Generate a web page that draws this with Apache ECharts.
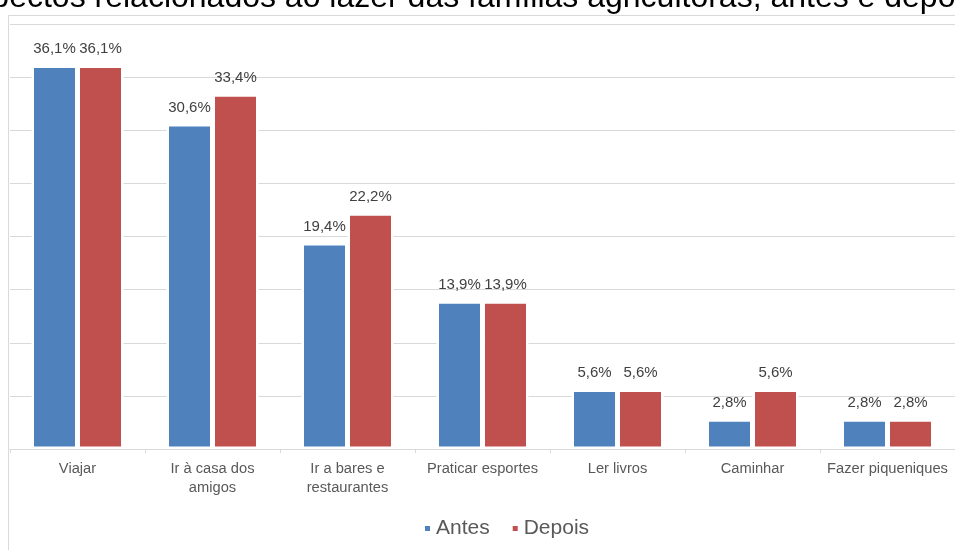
<!DOCTYPE html>
<html>
<head>
<meta charset="utf-8">
<script src="https://cdn.jsdelivr.net/npm/echarts@6/dist/echarts.min.js"></script>
<style>html,body{margin:0;padding:0;background:#fff}#c{width:955px;height:550px}</style>
</head>
<body>
<div id="c"></div>
<script>
var categories = ['Viajar', 'Ir à casa dos\namigos', 'Ir a bares e\nrestaurantes', 'Praticar esportes', 'Ler livros', 'Caminhar', 'Fazer piqueniques'];
var antes = [36.1, 30.6, 19.4, 13.9, 5.6, 2.8, 2.8];
var depois = [36.1, 33.4, 22.2, 13.9, 5.6, 5.6, 2.8];
var titleText = 'Aspectos relacionados ao lazer das famílias agricultoras, antes e depois';

var FONT = 'Liberation Sans, Arial, sans-serif';
var chart = echarts.init(document.getElementById('c'));
var fmt = function (p) { return p.value.toFixed(1).replace('.', ',') + '%'; };
var lbl = { show: true, position: 'top', distance: 9, formatter: fmt, color: '#404040', fontSize: 15, fontFamily: FONT };
chart.setOption({
  animation: false,
  textStyle: { fontFamily: FONT },
  graphic: [
    { type: 'rect', shape: { x: 8.5, y: 15.5, width: 1000, height: 600 }, style: { fill: 'none', stroke: '#D9D9D9', lineWidth: 1 }, z: -1 },
    { type: 'text', left: -46, top: -18, style: { text: titleText, fontSize: 32, fill: '#000', fontFamily: FONT } }
  ],
  legend: {
    data: ['Antes', 'Depois'], left: 418, top: 513, itemWidth: 7, itemHeight: 7, itemGap: 21,
    icon: 'rect', textStyle: { fontSize: 21, color: '#595959', fontFamily: FONT }
  },
  grid: { left: 10, right: 0, top: 24, bottom: 101 },
  xAxis: {
    type: 'category', data: categories, z: 5,
    axisLine: { lineStyle: { color: '#D9D9D9', width: 1 } },
    axisTick: { show: true, length: 4, lineStyle: { color: '#D9D9D9' } },
    axisLabel: { color: '#595959', fontSize: 14.7, margin: 10, lineHeight: 19, interval: 0, fontFamily: FONT }
  },
  yAxis: {
    type: 'value', min: 0, max: 40, interval: 5,
    axisLabel: { show: false }, axisLine: { show: false }, axisTick: { show: false },
    splitLine: { lineStyle: { color: '#D9D9D9', width: 1 } }
  },
  series: [
    { name: 'Antes', type: 'bar', data: antes, barWidth: 46, barGap: '0%', itemStyle: { color: '#4F81BD', borderColor: '#fff', borderWidth: 2.5 }, label: lbl },
    { name: 'Depois', type: 'bar', data: depois, barWidth: 46, barGap: '0%', itemStyle: { color: '#C0504D', borderColor: '#fff', borderWidth: 2.5 }, label: lbl }
  ]
});
</script>
</body>
</html>
